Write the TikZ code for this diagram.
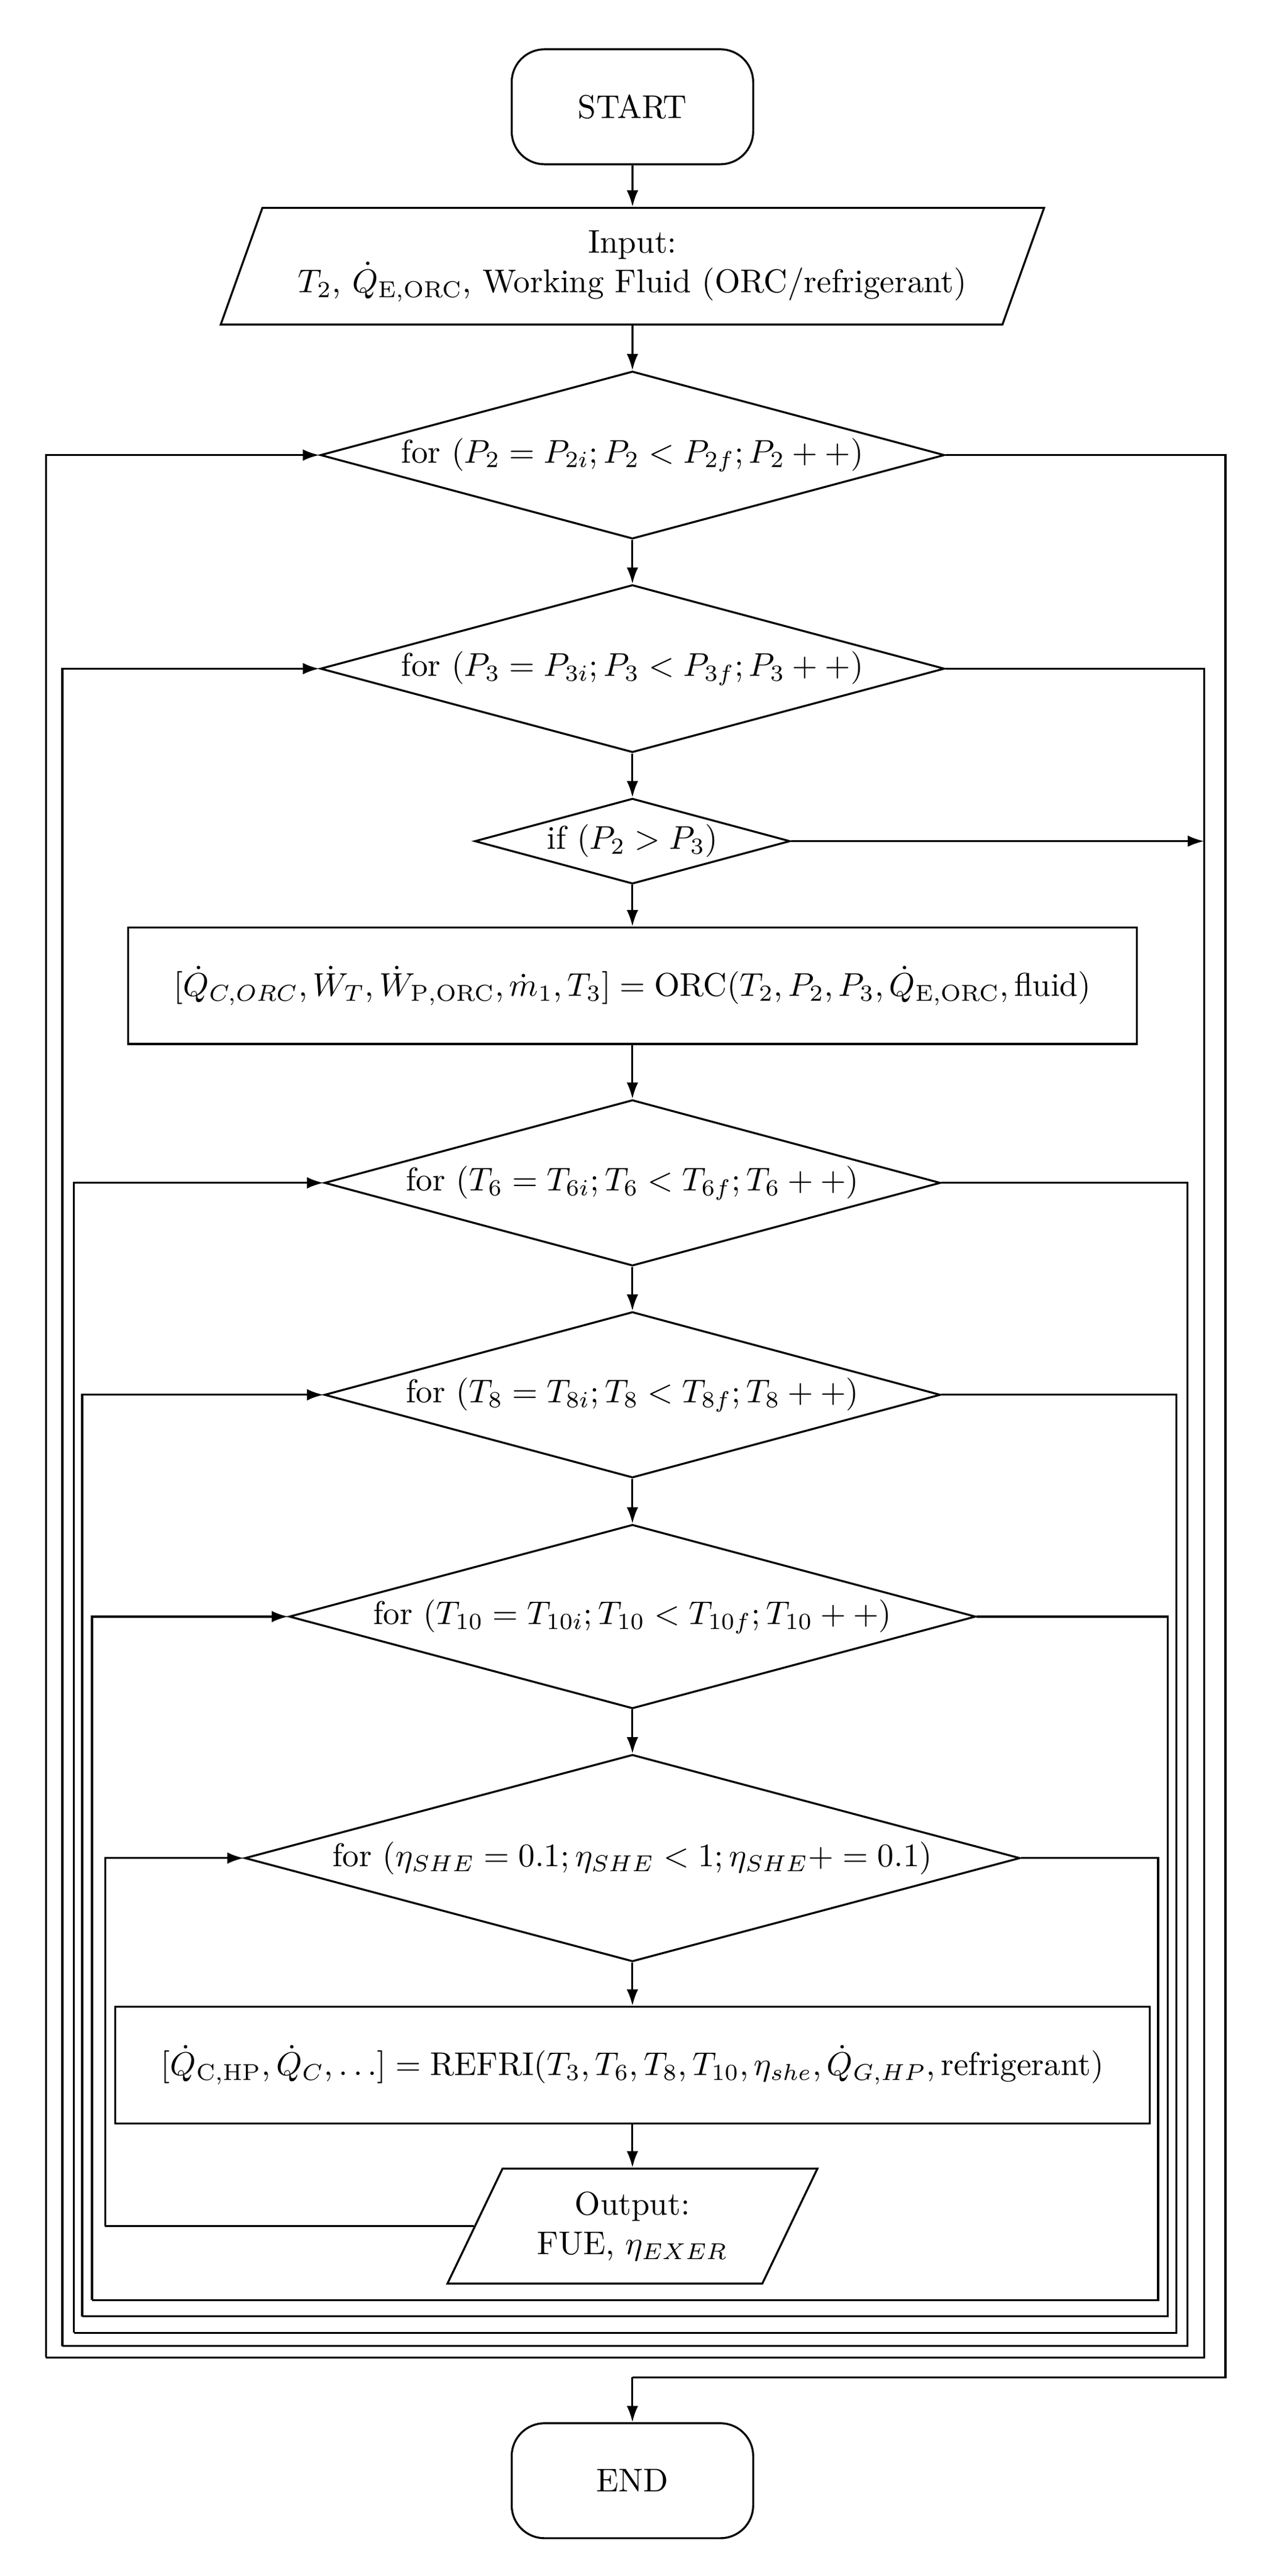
\documentclass[tikz,border=0pt]{standalone}
\usepackage{amsmath,amssymb}
\usetikzlibrary{shapes.geometric,arrows.meta}

\begin{document}
\begin{tikzpicture}[x=0.5pt,y=-0.5pt,
  line/.style={semithick},
  arr/.style={semithick,-{Latex[length=5pt,width=3.5pt]}},
  term/.style={draw,semithick,rounded corners=10pt,minimum width=73.5pt,minimum height=35pt},
  io/.style={draw,semithick,trapezium,trapezium left angle=#1,trapezium right angle=180-#1,trapezium stretches=true,align=center,inner xsep=0pt},
  loop/.style={draw,semithick,diamond,aspect=3.73,inner sep=0pt},
  proc/.style={draw,semithick,rectangle,minimum height=35.5pt}]
\useasboundingbox (0,0) rectangle (770,1568);
% Nodes
\node[term] (start) at (385,65) {START};
\node[io=68,minimum width=251pt,minimum height=35.5pt] (input) at (385,162) {Input:\\$T_2$, $\dot{Q}_{\mathrm{E,ORC}}$, Working Fluid (ORC/refrigerant)};
\node[loop,minimum width=190pt,minimum height=51pt] (p2) at (385,277) {for $(P_2=P_{2i};P_2<P_{2f};P_2++)$};
\node[loop,minimum width=190pt,minimum height=51pt] (p3) at (385,407) {for $(P_3=P_{3i};P_3<P_{3f};P_3++)$};
\node[loop,minimum width=96pt,minimum height=26pt,inner sep=-3pt] (cond) at (385,512) {if $(P_2>P_3)$};
\node[proc,minimum width=307pt] (orc) at (385,600) {$[\dot{Q}_{C,ORC},\dot{W}_T,\dot{W}_{\mathrm{P,ORC}},\dot{m}_1,T_3]=\mathrm{ORC}(T_2,P_2,P_3,\dot{Q}_{\mathrm{E,ORC}},\text{fluid})$};
\node[loop,minimum width=187.5pt,minimum height=50.5pt] (t6) at (385,720) {for $(T_6=T_{6i};T_6<T_{6f};T_6++)$};
\node[loop,minimum width=187.5pt,minimum height=50.5pt] (t8) at (385,849) {for $(T_8=T_{8i};T_8<T_{8f};T_8++)$};
\node[loop,minimum width=209pt,minimum height=56pt] (t10) at (385,984) {for $(T_{10}=T_{10i};T_{10}<T_{10f};T_{10}++)$};
\node[loop,minimum width=236pt,minimum height=63pt] (she) at (385,1131) {for $(\eta_{SHE}=0.1;\eta_{SHE}<1;\eta_{SHE}+=0.1)$};
\node[proc,minimum width=315pt] (refri) at (385,1257) {$[\dot{Q}_{\mathrm{C,HP}},\dot{Q}_C,\ldots]=\mathrm{REFRI}(T_3,T_6,T_8,T_{10},\eta_{she},\dot{Q}_{G,HP},\text{refrigerant})$};
\node[io=66,minimum width=113.5pt,minimum height=35pt] (output) at (385,1355) {Output:\\FUE, $\eta_{EXER}$};
\node[term] (stop) at (385,1510) {END};
% Corners of the loop lines
\coordinate (r2) at (746,1447);
\coordinate (l2) at (28,1435);  \coordinate (r3) at (733,1435);
\coordinate (l3) at (38,1428);  \coordinate (r6) at (723,1428);
\coordinate (l6) at (45,1420);  \coordinate (r8) at (716,1420);
\coordinate (l8) at (50,1410);  \coordinate (r10) at (711,1410);
\coordinate (l10) at (56,1400); \coordinate (rs) at (705,1400);
\coordinate (ls) at (64,1355);
\coordinate (cend) at (733,512);
\coordinate (mid) at (385,1447);
% Main flow
\draw[arr] (start) -- (input);
\draw[arr] (input) -- (p2);
\draw[arr] (p2) -- (p3);
\draw[arr] (p3) -- (cond);
\draw[arr] (cond) -- (orc);
\draw[arr] (orc) -- (t6);
\draw[arr] (t6) -- (t8);
\draw[arr] (t8) -- (t10);
\draw[arr] (t10) -- (she);
\draw[arr] (she) -- (refri);
\draw[arr] (refri) -- (output);
\draw[arr] (cond.east) -- (cend);
% Loop exits
\draw[line] (p2.east) -| (r2) -- (mid);
\draw[arr] (mid) -- (stop);
\draw[line] (p3.east) -| (r3) -- (l2);
\draw[arr] (l2) |- (p2.west);
\draw[line] (t6.east) -| (r6) -- (l3);
\draw[arr] (l3) |- (p3.west);
\draw[line] (t8.east) -| (r8) -- (l6);
\draw[arr] (l6) |- (t6.west);
\draw[line] (t10.east) -| (r10) -- (l8);
\draw[arr] (l8) |- (t8.west);
\draw[line] (she.east) -| (rs) -- (l10);
\draw[arr] (l10) |- (t10.west);
\draw[line] (output.west) -- (ls);
\draw[arr] (ls) |- (she.west);
\end{tikzpicture}
\end{document}
